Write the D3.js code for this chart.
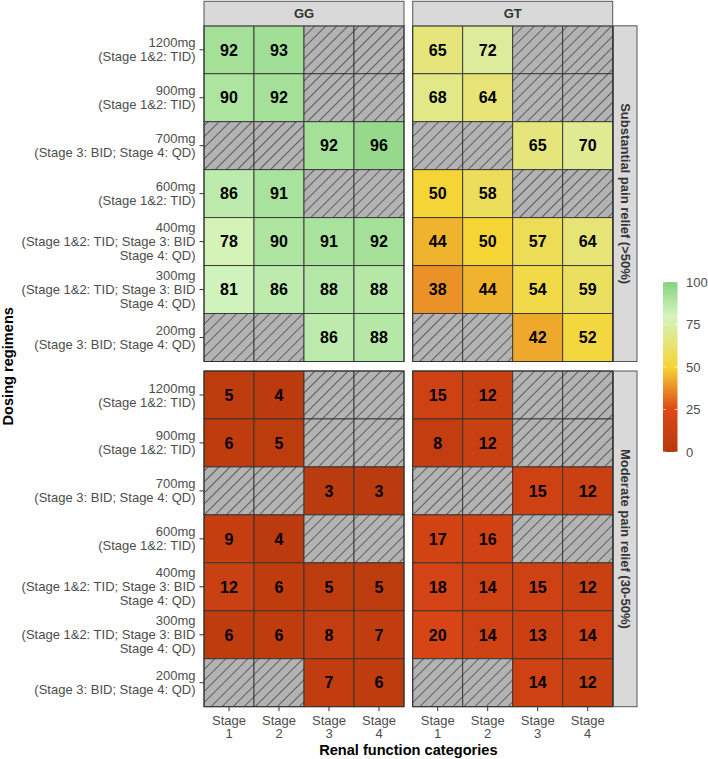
<!DOCTYPE html>
<html>
<head>
<meta charset="utf-8">
<script src="https://cdn.jsdelivr.net/npm/d3@7"></script>
<style>
  body { margin: 0; background: #fff; }
  svg text { font-family: "Liberation Sans", Arial, sans-serif; }
</style>
</head>
<body>
<svg id="chart"></svg>
<script>
// ---- data ----
const stages = ["Stage\n1", "Stage\n2", "Stage\n3", "Stage\n4"];
const regimens = [
  "1200mg\n(Stage 1&2: TID)",
  "900mg\n(Stage 1&2: TID)",
  "700mg\n(Stage 3: BID; Stage 4: QD)",
  "600mg\n(Stage 1&2: TID)",
  "400mg\n(Stage 1&2: TID; Stage 3: BID\nStage 4: QD)",
  "300mg\n(Stage 1&2: TID; Stage 3: BID\nStage 4: QD)",
  "200mg\n(Stage 3: BID; Stage 4: QD)"
];
const genotypes = ["GG", "GT"];
const outcomes = ["Substantial pain relief (>50%)", "Moderate pain relief (30-50%)"];

// rows = regimens, cols = stages; null = regimen not used at that stage
const substantialGG = [
  [92, 93, null, null],
  [90, 92, null, null],
  [null, null, 92, 96],
  [86, 91, null, null],
  [78, 90, 91, 92],
  [81, 86, 88, 88],
  [null, null, 86, 88]
];
const substantialGT = [
  [65, 72, null, null],
  [68, 64, null, null],
  [null, null, 65, 70],
  [50, 58, null, null],
  [44, 50, 57, 64],
  [38, 44, 54, 59],
  [null, null, 42, 52]
];
const moderateGG = [
  [5, 4, null, null],
  [6, 5, null, null],
  [null, null, 3, 3],
  [9, 4, null, null],
  [12, 6, 5, 5],
  [6, 6, 8, 7],
  [null, null, 7, 6]
];
const moderateGT = [
  [15, 12, null, null],
  [8, 12, null, null],
  [null, null, 15, 12],
  [17, 16, null, null],
  [18, 14, 15, 12],
  [20, 14, 13, 14],
  [null, null, 14, 12]
];
const legendTicks = [0, 25, 50, 75, 100];

const panelData = [
  [substantialGG, substantialGT],
  [moderateGG, moderateGT]
];

// ---- layout ----
const W = 708, H = 759;
const panelW = 200, panelH = 335.7;
const panelLeft = [204, 412.7];
const panelTop = [25.8, 371];
const stripH = 24.5, stripW = 23.5;

const color = d3.scaleLinear()
  .domain([0, 25, 50, 80, 100])
  .range(["#b5390c", "#df4718", "#f5d535", "#d4f5c0", "#86d27f"]);

const svg = d3.select("#chart").attr("width", W).attr("height", H);

const defs = svg.append("defs");
const hatch = defs.append("pattern")
  .attr("id", "hatch")
  .attr("patternUnits", "userSpaceOnUse")
  .attr("width", 7.8).attr("height", 7.8)
  .attr("patternTransform", "rotate(45)");
hatch.append("rect").attr("width", 7.8).attr("height", 7.8).attr("fill", "#b3b3b3");
hatch.append("line").attr("x1", 0).attr("y1", 0).attr("x2", 0).attr("y2", 7.8)
  .attr("stroke", "#404040").attr("stroke-width", 1.5);

const x = d3.scaleBand().domain(stages).range([0, panelW]);
const y = d3.scaleBand().domain(regimens).range([0, panelH]);

function multiline(sel, lineH, anchorX) {
  sel.each(function(d) {
    const lines = d.split("\n");
    const t = d3.select(this).text(null).attr("dy", null);
    lines.forEach((l, i) => {
      t.append("tspan")
        .attr("x", anchorX)
        .attr("y", (i - (lines.length - 1) / 2) * lineH)
        .attr("dy", "0.35em")
        .text(l);
    });
  });
}

outcomes.forEach((outcome, r) => {
  genotypes.forEach((gt, c) => {
    const g = svg.append("g")
      .attr("transform", `translate(${panelLeft[c]},${panelTop[r]})`);
    const cells = [];
    panelData[r][c].forEach((row, i) => row.forEach((v, j) => {
      cells.push({ reg: regimens[i], stage: stages[j], v });
    }));

    g.selectAll("rect.cell")
      .data(cells)
      .enter().append("rect")
      .attr("class", "cell")
      .attr("x", d => x(d.stage))
      .attr("y", d => y(d.reg))
      .attr("width", x.bandwidth())
      .attr("height", y.bandwidth())
      .attr("fill", d => d.v == null ? "url(#hatch)" : color(d.v))
      .attr("stroke", "#333")
      .attr("stroke-width", 0.9);

    g.selectAll("text.val")
      .data(cells.filter(d => d.v != null))
      .enter().append("text")
      .attr("class", "val")
      .attr("x", d => x(d.stage) + x.bandwidth() / 2)
      .attr("y", d => y(d.reg) + y.bandwidth() / 2)
      .attr("dy", "0.36em")
      .attr("text-anchor", "middle")
      .attr("font-size", "16px")
      .attr("font-weight", "bold")
      .attr("fill", "#000")
      .text(d => d.v);

    // panel border
    g.append("rect")
      .attr("width", panelW).attr("height", panelH)
      .attr("fill", "none").attr("stroke", "#333").attr("stroke-width", 1);

    // top strips
    if (r === 0) {
      svg.append("rect")
        .attr("x", panelLeft[c]).attr("y", panelTop[0] - stripH)
        .attr("width", panelW).attr("height", stripH)
        .attr("fill", "#d9d9d9").attr("stroke", "#555").attr("stroke-width", 1);
      svg.append("text")
        .attr("x", panelLeft[c] + panelW / 2)
        .attr("y", panelTop[0] - stripH / 2)
        .attr("dy", "0.35em")
        .attr("text-anchor", "middle")
        .attr("font-size", "13px")
        .attr("font-weight", "bold")
        .attr("fill", "#333")
        .text(gt);
    }

    // left axis
    if (c === 0) {
      const ax = g.append("g").call(d3.axisLeft(y).tickSize(4.5).tickPadding(4));
      ax.select(".domain").remove();
      ax.selectAll(".tick line").attr("stroke", "#333");
      ax.selectAll(".tick text")
        .attr("font-size", "13px")
        .attr("fill", "#4d4d4d")
        .call(multiline, 14, -8.5);
    }

    // bottom axis
    if (r === 1) {
      const ax = g.append("g")
        .attr("transform", `translate(0,${panelH})`)
        .call(d3.axisBottom(x).tickSize(4.5).tickPadding(3));
      ax.select(".domain").remove();
      ax.selectAll(".tick line").attr("stroke", "#333");
      ax.selectAll(".tick text")
        .attr("font-size", "13px")
        .attr("fill", "#4d4d4d")
        .each(function(d) {
          const lines = d.split("\n");
          const t = d3.select(this).text(null).attr("dy", null).attr("y", null);
          lines.forEach((l, i) => {
            t.append("tspan").attr("x", 0).attr("y", 13.5 + i * 13.5)
              .attr("dy", "0.35em").text(l);
          });
        });
    }
  });

  // right strip
  const sx = panelLeft[1] + panelW + 0.8;
  svg.append("rect")
    .attr("x", sx).attr("y", panelTop[r])
    .attr("width", stripW).attr("height", panelH)
    .attr("fill", "#d9d9d9").attr("stroke", "#555").attr("stroke-width", 1);
  svg.append("text")
    .attr("transform", `translate(${sx + stripW / 2},${panelTop[r] + panelH / 2}) rotate(90)`)
    .attr("dy", "0.35em")
    .attr("text-anchor", "middle")
    .attr("font-size", "13px")
    .attr("font-weight", "bold")
    .attr("fill", "#333")
    .text(outcome);
});

// axis titles
svg.append("text")
  .attr("x", (panelLeft[0] + panelLeft[1] + panelW) / 2)
  .attr("y", 750)
  .attr("dy", "0.35em")
  .attr("text-anchor", "middle")
  .attr("font-size", "14.6px")
  .attr("font-weight", "bold")
  .attr("fill", "#000")
  .text("Renal function categories");

svg.append("text")
  .attr("transform", `translate(8,${(panelTop[0] + panelTop[1] + panelH) / 2}) rotate(-90)`)
  .attr("dy", "0.35em")
  .attr("text-anchor", "middle")
  .attr("font-size", "14.6px")
  .attr("font-weight", "bold")
  .attr("fill", "#000")
  .text("Dosing regimens");

// legend colourbar
const legX = 663, legY = 282, legW = 14.5, legH = 170;
const lg = defs.append("linearGradient")
  .attr("id", "legGrad").attr("x1", 0).attr("y1", 1).attr("x2", 0).attr("y2", 0);
d3.range(0, 101, 5).forEach(v => {
  lg.append("stop").attr("offset", `${v}%`).attr("stop-color", color(v));
});
svg.append("rect")
  .attr("x", legX).attr("y", legY).attr("width", legW).attr("height", legH)
  .attr("fill", "url(#legGrad)");

const legScale = d3.scaleLinear().domain([0, 100]).range([legY + legH, legY]);
const legAxis = svg.append("g");
legAxis.selectAll("line.l")
  .data(legendTicks).enter().append("line")
  .attr("x1", legX).attr("x2", legX + 3)
  .attr("y1", d => legScale(d)).attr("y2", d => legScale(d))
  .attr("stroke", "#fff").attr("stroke-width", 0.8).attr("opacity", 0.8);
legAxis.selectAll("line.r")
  .data(legendTicks).enter().append("line")
  .attr("x1", legX + legW - 3).attr("x2", legX + legW)
  .attr("y1", d => legScale(d)).attr("y2", d => legScale(d))
  .attr("stroke", "#fff").attr("stroke-width", 0.8).attr("opacity", 0.8);
legAxis.selectAll("text")
  .data(legendTicks).enter().append("text")
  .attr("x", 686)
  .attr("y", d => legScale(d))
  .attr("dy", "0.35em")
  .attr("font-size", "13px")
  .attr("fill", "#4d4d4d")
  .text(d => d);
</script>
</body>
</html>
